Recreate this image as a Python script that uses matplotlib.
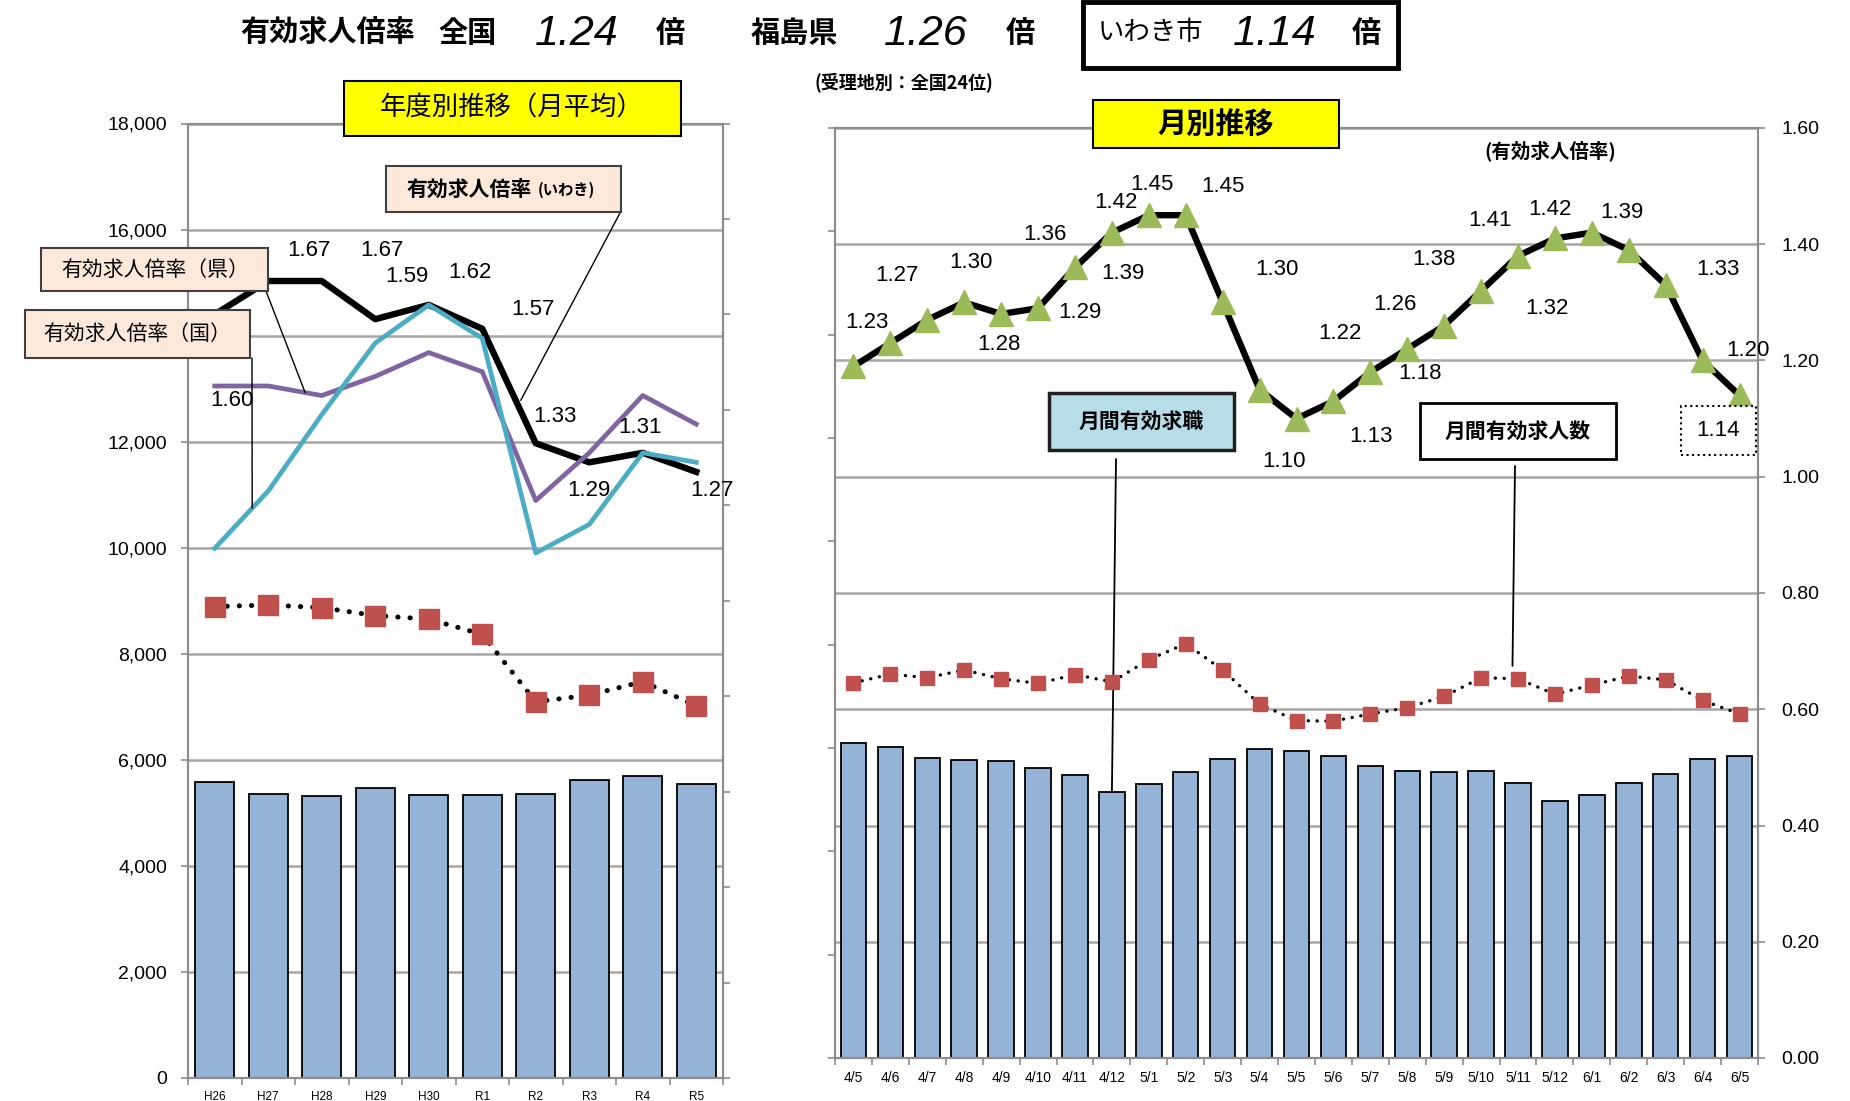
import matplotlib
matplotlib.use("Agg")
import matplotlib.pyplot as plt
from matplotlib.patches import Rectangle
from matplotlib.ticker import FuncFormatter
import numpy as np

JP = "Noto Sans CJK JP"
LAT = "Liberation Sans"
plt.rcParams["font.family"] = [LAT, JP, "DejaVu Sans"]

# 年度別推移(月平均)
years = ["H26", "H27", "H28", "H29", "H30", "R1", "R2", "R3", "R4", "R5"]
year_seekers = [5575, 5350, 5310, 5470, 5340, 5340, 5360, 5615, 5700, 5540]
year_offers = [8890, 8920, 8870, 8720, 8655, 8365, 7095, 7220, 7475, 7020]
year_ratio_iwaki = [1.60, 1.67, 1.67, 1.59, 1.62, 1.57, 1.33, 1.29, 1.31, 1.27]
year_ratio_pref = [1.45, 1.45, 1.43, 1.47, 1.52, 1.48, 1.21, 1.31, 1.43, 1.37]
year_ratio_nation = [1.11, 1.23, 1.39, 1.54, 1.62, 1.55, 1.10, 1.16, 1.31, 1.29]

# 月別推移
months = ["4/5", "4/6", "4/7", "4/8", "4/9", "4/10", "4/11", "4/12",
          "5/1", "5/2", "5/3", "5/4", "5/5", "5/6", "5/7", "5/8", "5/9",
          "5/10", "5/11", "5/12", "6/1", "6/2", "6/3", "6/4", "6/5"]
month_seekers = [6100, 6010, 5800, 5770, 5750, 5620, 5480, 5150, 5310, 5530,
                 5780, 5980, 5940, 5850, 5660, 5560, 5540, 5560, 5320, 4980,
                 5090, 5320, 5500, 5780, 5850]
month_offers = [7260, 7430, 7360, 7510, 7340, 7250, 7420, 7280, 7710, 8020,
                7510, 6850, 6530, 6520, 6660, 6780, 7000, 7360, 7340, 7040,
                7220, 7390, 7320, 6920, 6660]
month_ratio = [1.19, 1.23, 1.27, 1.30, 1.28, 1.29, 1.36, 1.42, 1.45, 1.45,
               1.30, 1.15, 1.10, 1.13, 1.18, 1.22, 1.26, 1.32, 1.38, 1.41,
               1.42, 1.39, 1.33, 1.20, 1.14]
month_label_text = ["1.23", "1.27", "1.30", "1.28", "1.29", "1.36", "1.39",
                    "1.42", "1.45", "1.45", "1.30", "1.10", "1.13", "1.22",
                    "1.18", "1.26", "1.38", "1.32", "1.41", "1.42", "1.39",
                    "1.33", "1.20", "1.14"]

# where the data labels sit (data coords of the ratio axes)
year_label_pos = [(0.32, 1.42), (1.76, 1.733), (3.13, 1.733), (3.59, 1.68),
                  (4.77, 1.687), (5.95, 1.611), (6.36, 1.387), (7.0, 1.232),
                  (7.95, 1.364), (9.29, 1.232)]
month_label_pos = [(0.37, 1.265), (1.18, 1.347), (3.18, 1.368), (3.94, 1.228),
                   (6.14, 1.282), (5.19, 1.416), (7.30, 1.349), (7.11, 1.471),
                   (8.09, 1.502), (10.01, 1.500), (11.47, 1.357), (11.66, 1.027),
                   (14.02, 1.070), (13.18, 1.246), (15.35, 1.178), (14.67, 1.297),
                   (15.72, 1.373), (18.78, 1.290), (17.24, 1.440), (18.87, 1.459),
                   (20.82, 1.455), (23.42, 1.357), (24.23, 1.218), (23.42, 1.079)]

BAR = "#95B3D7"
RED = "#C0504D"
GREEN = "#9BBB59"
CYAN = "#4BACC6"
PURPLE = "#8064A2"
GRID = "#A6A6A6"
SPINE = "#8C8C8C"
PEACH = "#FDE9D9"

W, H = 1850, 1101
fig = plt.figure(figsize=(W / 100, H / 100), dpi=100)


def fx(px):
    return px / W


def fy(py):
    return 1 - py / H


def box(x0, y0, x1, y1, fc, ec="black", lw=1.5, ls="-"):
    fig.add_artist(Rectangle((fx(x0), fy(y1)), fx(x1) - fx(x0), fy(y0) - fy(y1),
                             transform=fig.transFigure, facecolor=fc,
                             edgecolor=ec, lw=lw, ls=ls, zorder=5))


def ftext(x, y, s, **kw):
    kw.setdefault("ha", "center")
    kw.setdefault("va", "center")
    kw.setdefault("zorder", 6)
    fig.text(fx(x), fy(y), s, **kw)


def style_axes(ax, n):
    for sp in ax.spines.values():
        sp.set_color(SPINE)
        sp.set_linewidth(1.5)
    ax.set_xlim(-0.5, n - 0.5)
    ax.set_xticks(range(n))
    ax.set_xticks(np.arange(-0.5, n), minor=True)
    ax.tick_params(axis="x", which="major", length=0, pad=9)
    ax.tick_params(axis="x", which="minor", length=5, color=SPINE, width=1.2)


def thousands(v, pos):
    # the 14,000 label is hidden under the callout boxes in the original
    return "" if int(v) == 14000 else f"{int(v):,}"


# ---------------- left chart ----------------
axL = fig.add_axes([fx(188), fy(1078), fx(723) - fx(188), fy(123.5) - fy(1078)])
xl = np.arange(len(years))
style_axes(axL, len(years))
axL.set_ylim(0, 18000)
axL.set_yticks(np.arange(0, 18001, 2000))
axL.yaxis.set_major_formatter(FuncFormatter(thousands))
axL.tick_params(axis="y", length=5, color=SPINE, width=1.2, pad=10, labelsize=14)
axL.set_xticklabels(years, fontsize=8.5)
axL.yaxis.grid(True, color=GRID, lw=1.8)
axL.set_axisbelow(True)
axL.bar(xl, year_seekers, width=0.72, color=BAR, edgecolor="black", lw=1.3, zorder=2)
axL.plot(xl, year_offers, color="black", lw=3.6, linestyle=(0, (0.05, 2.4)),
         dash_capstyle="round", zorder=3)
axL.plot(xl, year_offers, "s", color=RED, ms=14, zorder=4)

axL2 = axL.twinx()
axL2.set_ylim(0, 2.0)
axL2.set_yticks(np.arange(0, 2.01, 0.2))
axL2.tick_params(axis="y", length=5, color=SPINE, width=1.2, labelright=False)
for sp in axL2.spines.values():
    sp.set_color(SPINE)
    sp.set_linewidth(1.5)
axL2.plot(xl, year_ratio_iwaki, color="black", lw=4.6, zorder=3)
axL2.plot(xl, year_ratio_pref, color=PURPLE, lw=3.4, zorder=3)
axL2.plot(xl, year_ratio_nation, color=CYAN, lw=3.4, zorder=3)
for v, (px, py) in zip(year_ratio_iwaki, year_label_pos):
    axL2.text(px, py, f"{v:.2f}", ha="center", va="center", fontsize=16, zorder=5)

# leader lines
axL2.annotate("", xy=(5.72, 1.42), xytext=(fx(620), fy(213)),
              textcoords="figure fraction", annotation_clip=False,
              arrowprops=dict(arrowstyle="-", color="black", lw=1, shrinkA=0, shrinkB=0))
axL2.annotate("", xy=(1.69, 1.436), xytext=(fx(266), fy(291)),
              textcoords="figure fraction", annotation_clip=False,
              arrowprops=dict(arrowstyle="-", color="black", lw=1, shrinkA=0, shrinkB=0))
axL2.annotate("", xy=(0.70, 1.194), xytext=(fx(252), fy(358)),
              textcoords="figure fraction", annotation_clip=False,
              arrowprops=dict(arrowstyle="-", color="black", lw=1, shrinkA=0, shrinkB=0))

# ---------------- right chart ----------------
axR = fig.add_axes([fx(835), fy(1058), fx(1758) - fx(835), fy(128) - fy(1058)])
xr = np.arange(len(months))
style_axes(axR, len(months))
axR.set_ylim(0, 18000)
axR.set_yticks(np.arange(0, 18001, 2000))
axR.tick_params(axis="y", length=5, color=SPINE, width=1.2, labelleft=False)
axR.set_xticklabels(months, fontsize=10)
for g in np.arange(0, 1.61, 0.2):
    axR.axhline(g * 18000 / 1.6, color=GRID, lw=1.8, zorder=0.5)
axR.bar(xr, month_seekers, width=0.69, color=BAR, edgecolor="black", lw=1.3, zorder=2)
axR.plot(xr, month_offers, color="black", lw=2.4, linestyle=(0, (0.05, 2.6)),
         dash_capstyle="round", zorder=3)
axR.plot(xr, month_offers, "s", color=RED, ms=10, zorder=4)

axR2 = axR.twinx()
axR2.set_ylim(0, 1.6)
axR2.set_yticks(np.arange(0, 1.61, 0.2))
axR2.yaxis.set_major_formatter(FuncFormatter(lambda v, p: f"{v:.2f}"))
axR2.tick_params(axis="y", length=5, color=SPINE, width=1.2, pad=12, labelsize=14)
for sp in axR2.spines.values():
    sp.set_color(SPINE)
    sp.set_linewidth(1.5)
axR2.plot(xr, month_ratio, color="black", lw=4.6, zorder=3)
axR2.plot(xr, month_ratio, "^", color=GREEN, ms=17, zorder=4)
for s, (px, py) in zip(month_label_text, month_label_pos):
    axR2.text(px, py, s, ha="center", va="center", fontsize=16, zorder=7)

axR.annotate("", xy=(7, month_seekers[7]), xytext=(fx(1116), fy(459)),
             textcoords="figure fraction", annotation_clip=False,
             arrowprops=dict(arrowstyle="-", color="black", lw=1.3, shrinkA=0, shrinkB=0))
axR.annotate("", xy=(17.85, 7590), xytext=(fx(1515), fy(466)),
             textcoords="figure fraction", annotation_clip=False,
             arrowprops=dict(arrowstyle="-", color="black", lw=1.3, shrinkA=0, shrinkB=0))

# ---------------- headline ----------------
ty = 33
ftext(328, ty, "有効求人倍率", family=[JP], fontsize=21, weight="bold")
ftext(468, ty, "全国", family=[JP], fontsize=21, weight="bold")
ftext(577, ty + 1, "1.24", family=[LAT], fontsize=31, style="italic")
ftext(670, ty, "倍", family=[JP], fontsize=21, weight="bold")
ftext(794, ty, "福島県", family=[JP], fontsize=21, weight="bold")
ftext(926, ty + 1, "1.26", family=[LAT], fontsize=31, style="italic")
ftext(1020, ty, "倍", family=[JP], fontsize=21, weight="bold")
box(1083, 2, 1398, 68, "white", lw=3.5)
ftext(1150, ty, "いわき市", family=[JP], fontsize=19)
ftext(1275, ty + 1, "1.14", family=[LAT], fontsize=31, style="italic")
ftext(1366, ty, "倍", family=[JP], fontsize=21, weight="bold")
ftext(904, 83, "(受理地別：全国24位)", family=[JP], fontsize=13, weight="bold")

# chart titles
box(344, 81, 681, 136, "#FFFF00", lw=1.5)
ftext(512, 108, "年度別推移（月平均）", family=[JP], fontsize=19)
box(1093, 100, 1339, 148, "#FFFF00", lw=1.5)
ftext(1216, 124, "月別推移", family=[JP], fontsize=21, weight="bold")
ftext(1550, 152, "(有効求人倍率)", family=[JP], fontsize=14, weight="bold")

# callouts, left
box(386, 166, 621, 212, PEACH, ec="#404040")
ftext(469, 189, "有効求人倍率", family=[JP], fontsize=15, weight="bold")
ftext(566, 190, "(いわき)", family=[JP], fontsize=11, weight="bold")
box(41, 248, 268, 291, PEACH, ec="#404040")
ftext(155, 270, "有効求人倍率（県）", family=[JP], fontsize=15)
box(25, 310, 250, 358, PEACH, ec="#404040")
ftext(137, 334, "有効求人倍率（国）", family=[JP], fontsize=15)

# callouts, right
box(1049, 393, 1234, 450, "#B7DEE8", ec="#1F1F1F", lw=2.5)
ftext(1141, 421, "月間有効求職", family=[JP], fontsize=15, weight="bold")
box(1420, 403, 1616, 459, "white", ec="black", lw=2)
ftext(1518, 431, "月間有効求人数", family=[JP], fontsize=15, weight="bold")
box(1681, 406, 1756, 455, "white", ec="black", lw=1.5, ls=":")
ftext(1718, 430, "1.14", family=[LAT], fontsize=16)

fig.savefig("out.png", dpi=100)
